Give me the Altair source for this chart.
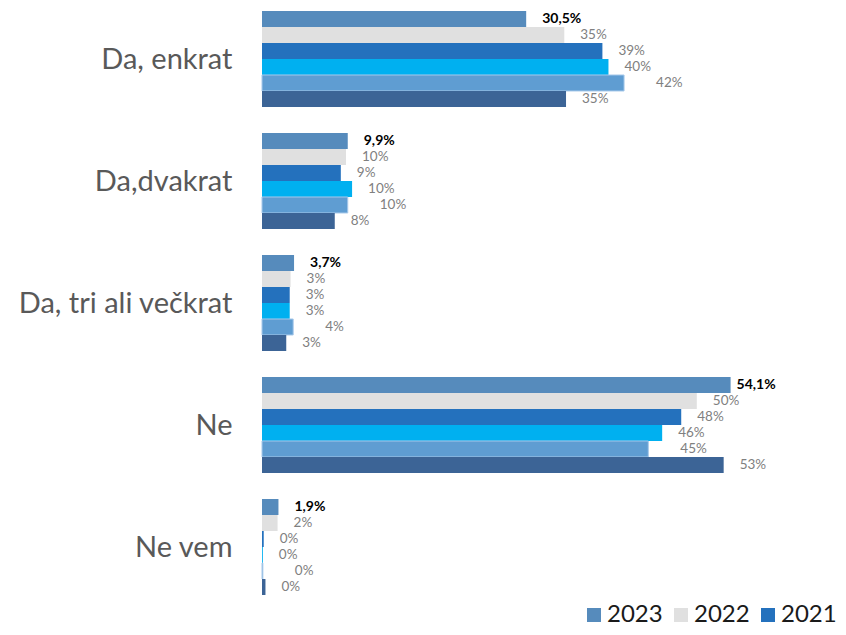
import altair as alt
import pandas as pd

categories = ["Da, enkrat", "Da,dvakrat", "Da, tri ali večkrat", "Ne", "Ne vem"]
series = ["2023", "2022", "2021", "2020", "2019", "2018"]
legend_series = ["2023", "2022", "2021"]
colors = ["#568BBC", "#E0E0E0", "#2471BD", "#00B0F0", "#5F9DD2", "#3C6496"]

values = {
    "2023": [30.5, 9.9, 3.7, 54.1, 1.9],
    "2022": [34.9, 9.7, 3.3, 50.2, 1.8],
    "2021": [39.3, 9.1, 3.2, 48.4, 0.2],
    "2020": [40.0, 10.4, 3.2, 46.2, 0.1],
    "2019": [41.8, 9.9, 3.6, 44.6, 0.1],
    "2018": [35.1, 8.4, 2.8, 53.3, 0.4],
}
labels = {
    "2023": ["30,5%", "9,9%", "3,7%", "54,1%", "1,9%"],
    "2022": ["35%", "10%", "3%", "50%", "2%"],
    "2021": ["39%", "9%", "3%", "48%", "0%"],
    "2020": ["40%", "10%", "3%", "46%", "0%"],
    "2019": ["42%", "10%", "4%", "45%", "0%"],
    "2018": ["35%", "8%", "3%", "53%", "0%"],
}

rows = []
for s in series:
    for i, c in enumerate(categories):
        rows.append({"category": c, "series": s, "value": values[s][i], "label": labels[s][i]})
df = pd.DataFrame(rows)

FONT = "Lato"

y_enc = alt.Y("category:N", sort=categories,
              scale=alt.Scale(domain=categories, paddingInner=0, paddingOuter=0),
              axis=alt.Axis(title=None, ticks=False, domain=False, grid=False, labelFontSize=29,
                            labelColor="#595959", labelFont=FONT, labelPadding=30,
                            labelOffset=-9, labelLimit=400))
yoff_enc = alt.YOffset("series:N",
                       scale=alt.Scale(domain=series, paddingInner=0, paddingOuter=0.8125, align=0.115))
x_enc = alt.X("value:Q", scale=alt.Scale(domain=[0, 66.5]), axis=None)

base = alt.Chart(df)

bars = base.mark_bar(strokeWidth=1).encode(
    x=x_enc, y=y_enc, yOffset=yoff_enc,
    color=alt.Color("series:N", sort=series,
                    scale=alt.Scale(domain=series, range=colors),
                    legend=alt.Legend(title=None, orient="none", legendX=320, legendY=595,
                                      direction="horizontal", columns=3, padding=0,
                                      values=legend_series,
                                      symbolType="square", symbolSize=196,
                                      symbolStrokeWidth=0,
                                      labelFontSize=24, labelFont=FONT, labelColor="#1a1a1a",
                                      labelOffset=1, columnPadding=6)),
    stroke=alt.condition(alt.datum.series == "2019", alt.value("#A7C9EA"), alt.value("transparent")),
)

txt_2023 = base.mark_text(align="left", baseline="middle", dx=16, fontSize=14,
                          fontWeight="bold", color="#000000", font=FONT).encode(
    x=x_enc, y=y_enc, yOffset=yoff_enc, text="label:N"
).transform_filter((alt.datum.series == "2023") & (alt.datum.category != "Ne"))

txt_2023_ne = base.mark_text(align="left", baseline="middle", dx=6, fontSize=14,
                             fontWeight="bold", color="#000000", font=FONT).encode(
    x=x_enc, y=y_enc, yOffset=yoff_enc, text="label:N"
).transform_filter((alt.datum.series == "2023") & (alt.datum.category == "Ne"))

txt_other = base.mark_text(align="left", baseline="middle", dx=16, fontSize=13.5,
                           color="#808080", font=FONT).encode(
    x=x_enc, y=y_enc, yOffset=yoff_enc, text="label:N"
).transform_filter((alt.datum.series != "2023") & (alt.datum.series != "2019"))

txt_2019 = base.mark_text(align="left", baseline="middle", dx=32, fontSize=13.5,
                          color="#808080", font=FONT).encode(
    x=x_enc, y=y_enc, yOffset=yoff_enc, text="label:N"
).transform_filter(alt.datum.series == "2019")

chart = alt.layer(bars, txt_2023, txt_2023_ne, txt_other, txt_2019).properties(
    width=576, height=610,
    autosize=alt.AutoSizeParams(type="none"),
    padding={"left": 254, "top": 0, "right": 0, "bottom": 9},
).configure_view(stroke=None)

chart.save("out.html", embed_options={"renderer": "svg", "actions": False})
